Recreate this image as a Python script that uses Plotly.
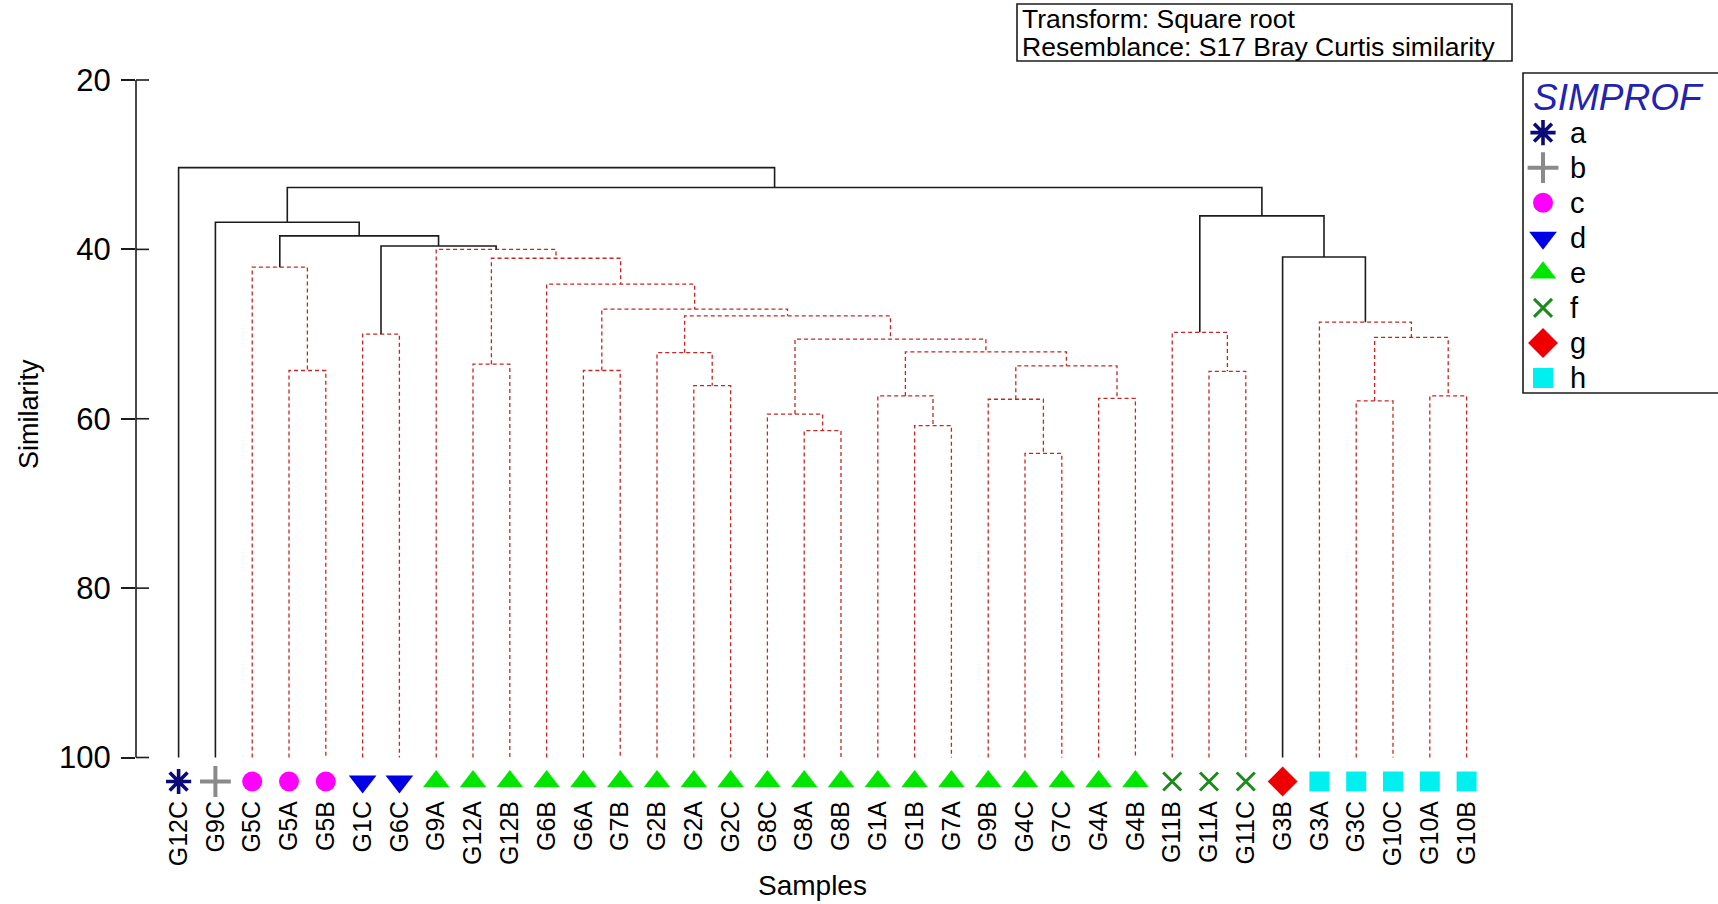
import plotly.graph_objects as go

# ---------------------------------------------------------------------------
# Data: sample order along the dendrogram and the SIMPROF group of each sample
# ---------------------------------------------------------------------------
leaves = ["G12C", "G9C", "G5C", "G5A", "G5B", "G1C", "G6C", "G9A", "G12A", "G12B",
          "G6B", "G6A", "G7B", "G2B", "G2A", "G2C", "G8C", "G8A", "G8B", "G1A",
          "G1B", "G7A", "G9B", "G4C", "G7C", "G4A", "G4B", "G11B", "G11A", "G11C",
          "G3B", "G3A", "G3C", "G10C", "G10A", "G10B"]
leaf_groups = ["a", "b", "c", "c", "c", "d", "d"] + ["e"] * 20 + ["f"] * 3 + ["g"] + ["h"] * 5

groups = ["a", "b", "c", "d", "e", "f", "g", "h"]

# Agglomeration steps: a string is a sample, an int refers to an earlier step
merge_left = ["G5A", "G5C", "G1C", "G12A", "G6A", "G2A", "G2B", "G8A", "G8C", "G1B",
              "G1A", "G4C", "G9B", "G4A", 12, 10, 8, 6, 4, "G6B",
              3, "G9A", 2, 1, "G9C", "G11A", "G11B", "G3C", "G10A", 27,
              "G3A", "G3B", 26, 24, "G12C"]
merge_right = ["G5B", 0, "G6C", "G12B", "G7B", "G2C", 5, "G8B", 7, "G7A",
               9, "G7C", 11, "G4B", 13, 14, 15, 16, 17, 18,
               19, 20, 21, 22, 23, "G11C", 25, "G10C", "G10B", 28,
               29, 30, 31, 32, 33]
merge_similarity = [54.3, 42.1, 50.0, 53.55, 54.3, 56.1, 52.2, 61.4, 59.45, 60.8,
                    57.3, 64.1, 57.7, 57.6, 53.75, 52.1, 50.6, 47.85, 47.06, 44.1,
                    41.05, 40.0, 39.6, 38.4, 36.8, 54.4, 49.8, 57.9, 57.3, 50.4,
                    48.6, 40.9, 36.05, 32.7, 30.35]

y_ticks = [20, 40, 60, 80, 100]

info_lines = ["Transform: Square root", "Resemblance: S17 Bray Curtis similarity"]

# ---------------------------------------------------------------------------
# Styling
# ---------------------------------------------------------------------------
W, H = 1718, 904
FONT = "Liberation Sans, Arial, Helvetica, sans-serif"
BLACK = "#1c1c1c"
RED = "#c82626"

group_style = {
    "a": dict(symbol="asterisk-open", color="#0b0b78", size=21, lw=3.6),
    "b": dict(symbol="cross-thin-open", color="#8a8a8a", size=22, lw=4.0),
    "c": dict(symbol="circle", color="#ff00ff", size=20, lw=0),
    "d": dict(symbol="triangle-down", color="#0000e6", size=24, lw=0),
    "e": dict(symbol="triangle-up", color="#00e600", size=23, lw=0),
    "f": dict(symbol="x-thin-open", color="#1e8a1e", size=18, lw=3.0),
    "g": dict(symbol="diamond", color="#ee0000", size=23, lw=0),
    "h": dict(symbol="square", color="#00f0f0", size=20, lw=0),
}

# plot-area geometry (pixels)
AX_X = 136                  # x pixel of the similarity axis
PLOT_R = 1510
PLOT_T, PLOT_B = 60, 795
LEAF0_PX, LEAF_STEP = 178.6, 36.8
Y20_PX, Y100_PX = 80.0, 757.5
MARKER_PX = 781.5

px_per_unit_y = (Y100_PX - Y20_PX) / 80.0
y_top = 20 - (Y20_PX - PLOT_T) / px_per_unit_y
y_bot = 100 + (PLOT_B - Y100_PX) / px_per_unit_y
marker_y = 100 + (MARKER_PX - Y100_PX) / px_per_unit_y
x_lo = -(LEAF0_PX - AX_X) / LEAF_STEP
x_hi = x_lo + (PLOT_R - AX_X) / LEAF_STEP

# ---------------------------------------------------------------------------
# Build dendrogram segments
# ---------------------------------------------------------------------------
pos, height, members = {}, {}, {}
for i, (name, g) in enumerate(zip(leaves, leaf_groups)):
    pos[name] = i
    height[name] = 100.0
    members[name] = {g}

solid_x, solid_y, dash_x, dash_y = [], [], [], []
for k, (l, r, s) in enumerate(zip(merge_left, merge_right, merge_similarity)):
    xl, xr = pos[l], pos[r]
    xs = [xl, xl, xr, xr, None]
    ys = [height[l], s, s, height[r], None]
    grp = members[l] | members[r]
    if len(grp) == 1:
        dash_x += xs
        dash_y += ys
    else:
        solid_x += xs
        solid_y += ys
    pos[k] = (xl + xr) / 2.0
    height[k] = s
    members[k] = grp

fig = go.Figure()

fig.add_trace(go.Scatter(x=dash_x, y=dash_y, mode="lines",
                         line=dict(color=RED, width=1.3, dash="4px,3px"),
                         hoverinfo="skip", showlegend=False))
fig.add_trace(go.Scatter(x=solid_x, y=solid_y, mode="lines",
                         line=dict(color=BLACK, width=1.6),
                         hoverinfo="skip", showlegend=False))

# sample symbols at the foot of the tree
for g in groups:
    idx = [i for i, lg in enumerate(leaf_groups) if lg == g]
    st = group_style[g]
    fig.add_trace(go.Scatter(
        x=idx, y=[marker_y] * len(idx), mode="markers",
        marker=dict(symbol=st["symbol"], size=st["size"], color=st["color"],
                    line=dict(color=st["color"], width=st["lw"])),
        text=[leaves[i] for i in idx], hoverinfo="text", showlegend=False,
        cliponaxis=False))

# SIMPROF key drawn on a pixel-space overlay axis
KEY_SYM_X, KEY_TXT_X = 1543, 1568
KEY_Y0, KEY_STEP = 132.6, 35.06
for j, g in enumerate(groups):
    st = group_style[g]
    fig.add_trace(go.Scatter(
        x=[KEY_SYM_X], y=[KEY_Y0 + j * KEY_STEP], mode="markers",
        marker=dict(symbol=st["symbol"], size=st["size"], color=st["color"],
                    line=dict(color=st["color"], width=st["lw"])),
        xaxis="x2", yaxis="y2", hoverinfo="skip", showlegend=False,
        cliponaxis=False))

annotations = []
for j, g in enumerate(groups):
    annotations.append(dict(x=KEY_TXT_X, y=KEY_Y0 + j * KEY_STEP, xref="x2", yref="y2",
                            text=g, showarrow=False, xanchor="left", yanchor="middle",
                            font=dict(family=FONT, size=29, color="black")))
annotations.append(dict(x=1531, y=97, xref="x2", yref="y2", text="<i>SIMPROF</i>",
                        showarrow=False, xanchor="left", yanchor="middle",
                        font=dict(family=FONT, size=37, color="#2323b0")))
for j, line in enumerate(info_lines):
    annotations.append(dict(x=1020, y=19 + j * 28, xref="x2", yref="y2", text=line,
                            showarrow=False, xanchor="left", yanchor="middle",
                            font=dict(family=FONT, size=26.5, color="black")))
annotations.append(dict(x=29, y=414, xref="x2", yref="y2", text="Similarity",
                        textangle=-90, showarrow=False, xanchor="center", yanchor="middle",
                        font=dict(family=FONT, size=27, color="black")))
annotations.append(dict(x=812, y=885, xref="x2", yref="y2", text="Samples",
                        showarrow=False, xanchor="center", yanchor="middle",
                        font=dict(family=FONT, size=28, color="black")))

shapes = [
    # similarity axis line
    dict(type="line", xref="x2", yref="y", x0=AX_X, x1=AX_X, y0=20, y1=100,
         line=dict(color=BLACK, width=1.6)),
    # info box and key frame
    dict(type="rect", xref="x2", yref="y2", x0=1017, x1=1512, y0=4, y1=61,
         line=dict(color=BLACK, width=1.6)),
    dict(type="rect", xref="x2", yref="y2", x0=1523, x1=1740, y0=73, y1=393,
         line=dict(color=BLACK, width=1.6)),
]
# the right half of each axis tick (the left half is the axis' own tick)
for t in y_ticks:
    shapes.append(dict(type="line", xref="x2", yref="y", x0=AX_X, x1=AX_X + 13,
                       y0=t, y1=t, line=dict(color=BLACK, width=1.6)))

fig.update_layout(
    template="none",
    width=W, height=H,
    margin=dict(l=0, r=0, t=0, b=0),
    paper_bgcolor="white", plot_bgcolor="rgba(0,0,0,0)",
    font=dict(family=FONT, color="black"),
    showlegend=False,
    xaxis=dict(domain=[AX_X / W, PLOT_R / W], range=[x_lo, x_hi],
               tickmode="array", tickvals=list(range(len(leaves))), ticktext=leaves,
               tickangle=-90, ticks="", showline=False, showgrid=False, zeroline=False,
               tickfont=dict(family=FONT, size=25, color="black"), automargin=False,
               fixedrange=True),
    yaxis=dict(domain=[(H - PLOT_B) / H, (H - PLOT_T) / H], range=[y_bot, y_top],
               tickmode="array", tickvals=y_ticks, ticktext=[str(t) for t in y_ticks],
               ticks="outside", ticklen=14, tickwidth=1.6, tickcolor=BLACK,
               ticklabelstandoff=4,
               showline=False, showgrid=False, zeroline=False,
               tickfont=dict(family=FONT, size=31, color="black"), automargin=False,
               fixedrange=True),
    xaxis2=dict(domain=[0, 1], range=[0, W], visible=False, anchor="y2",
                fixedrange=True),
    yaxis2=dict(domain=[0, 1], range=[H, 0], visible=False, anchor="x2",
                fixedrange=True),
    annotations=annotations,
    shapes=shapes,
)

fig.write_html("out.html")
